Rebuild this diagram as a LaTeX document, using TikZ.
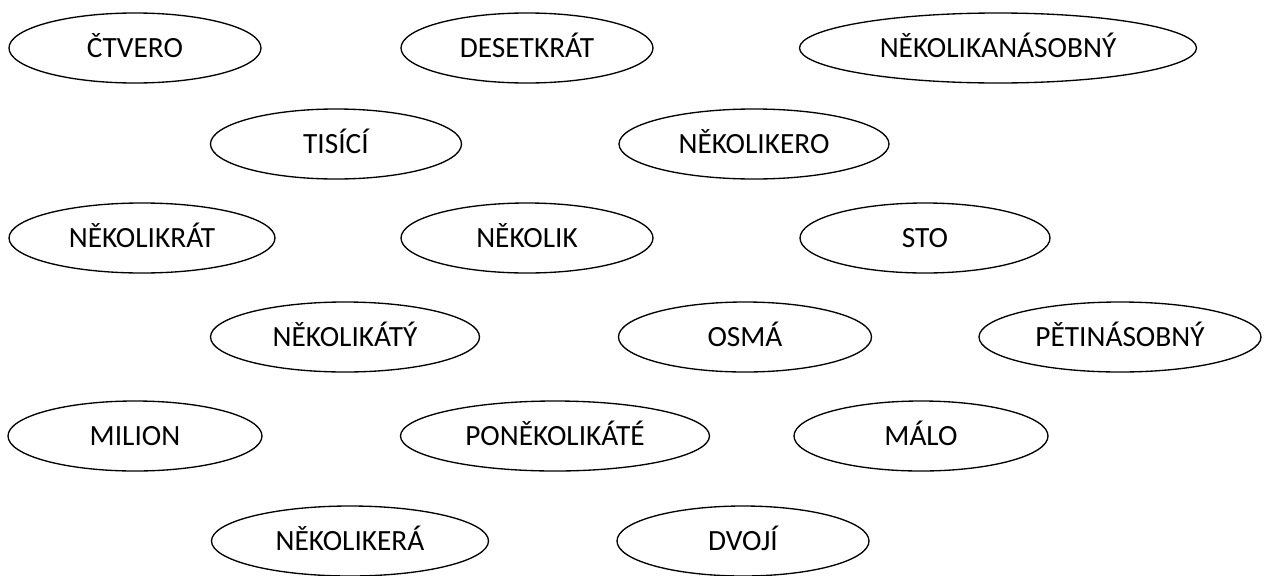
\documentclass[tikz,border=0pt]{standalone}
\usepackage{fontspec}
\setmainfont{Carlito}
\usetikzlibrary{shapes.geometric}
\begin{document}
\begin{tikzpicture}[x=0.75pt,y=-0.75pt,line join=round,
  font=\fontsize{22}{26}\selectfont,
  oval/.style={draw,ellipse,line width=1pt,inner sep=0pt,
    text height=16.2pt,text depth=2pt,
    minimum height=52.5pt,minimum width=#1*0.75pt}]
\useasboundingbox (0,0) rectangle (1266,575);
\path
(135,48) node[oval=252] (ctvero) {ČTVERO}
(527,48) node[oval=252] (desetkrat) {DESETKRÁT}
(998,48) node[oval=397] (nekolikanasobny) {NĚKOLIKANÁSOBNÝ}
(336,144) node[oval=251] (tisici) {TISÍCÍ}
(754,144) node[oval=270] (nekolikero) {NĚKOLIKERO}
(142,238) node[oval=266] (nekolikrat) {NĚKOLIKRÁT}
(527,238) node[oval=252] (nekolik) {NĚKOLIK}
(925,238) node[oval=250] (sto) {STO}
(345,337) node[oval=269] (nekolikaty) {NĚKOLIKÁTÝ}
(745,337) node[oval=253] (osma) {OSMÁ}
(1120,337) node[oval=282] (petinasobny) {PĚTINÁSOBNÝ}
(135,436) node[oval=254] (milion) {MILION}
(555,436) node[oval=309] (ponekolikate) {PONĚKOLIKÁTÉ}
(921,436) node[oval=254] (malo) {MÁLO}
(350,541) node[oval=277] (nekolikera) {NĚKOLIKERÁ}
(743,541) node[oval=252] (dvoji) {DVOJÍ}
;
\end{tikzpicture}
\end{document}
